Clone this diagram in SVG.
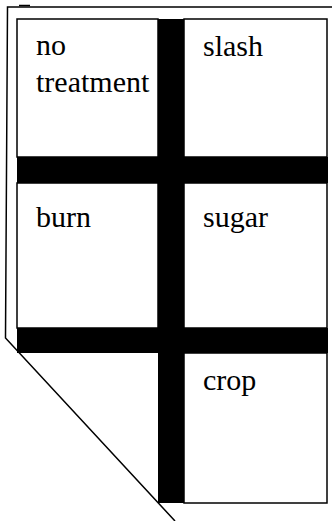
<svg xmlns="http://www.w3.org/2000/svg" width="332" height="521" viewBox="0 0 332 521">
<style>
.cell{fill:#fff;stroke:#000;stroke-width:1.5}
.bar{fill:#000}
.t{font-family:"Liberation Serif","Times New Roman",serif;font-size:30px;fill:#000}
.frame{fill:none;stroke:#000;stroke-width:1.5}
</style>
<rect width="332" height="521" fill="#fff"/>
<g id="frame">
<polyline class="frame" points="332,7 7.5,7 5.5,338 175,521"/>
<line class="frame" x1="19" y1="5.5" x2="30" y2="5.5"/>
</g>
<g id="connectors">
<rect class="bar" x="158" y="19" width="26" height="484"/>
<rect class="bar" x="17" y="157" width="311" height="26"/>
<rect class="bar" x="17" y="328" width="311" height="25"/>
</g>
<g id="no-treatment">
<rect class="cell" x="17" y="19" width="141" height="138"/>
<text class="t" x="36" y="55">no</text>
<text class="t" x="36" y="92">treatment</text>
</g>
<g id="slash">
<rect class="cell" x="184" y="19" width="143" height="138"/>
<text class="t" x="203" y="56">slash</text>
</g>
<g id="burn">
<rect class="cell" x="17" y="183" width="141" height="145"/>
<text class="t" x="36" y="227">burn</text>
</g>
<g id="sugar">
<rect class="cell" x="184" y="183" width="143" height="145"/>
<text class="t" x="203" y="227">sugar</text>
</g>
<g id="crop">
<rect class="cell" x="184" y="353" width="143" height="150"/>
<text class="t" x="203" y="390">crop</text>
</g>
</svg>
